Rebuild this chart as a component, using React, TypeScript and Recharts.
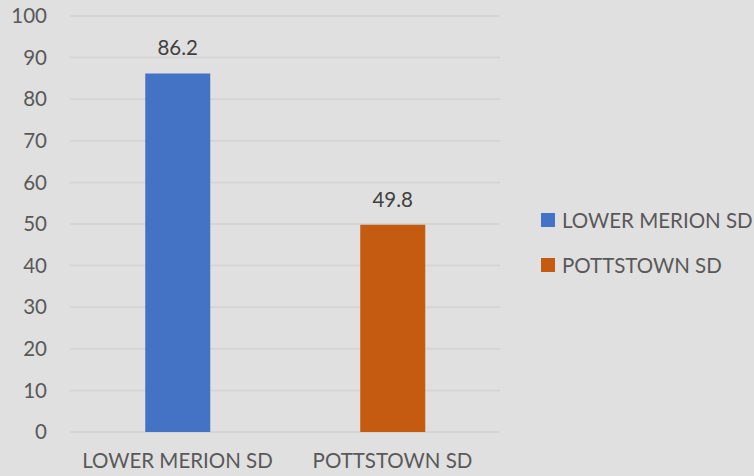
import React from 'react';
import { BarChart, Bar, XAxis, YAxis, CartesianGrid, Cell, LabelList } from 'recharts';

const districts = ['LOWER MERION SD', 'POTTSTOWN SD'];
const scores = [86.2, 49.8];
const colors = ['#4472C4', '#C55A11'];
const yTicks = [0, 10, 20, 30, 40, 50, 60, 70, 80, 90, 100];

const data = districts.map((name, i) => ({ name, value: scores[i] }));

const FONT = 'Lato, "Open Sans", sans-serif';
const FS = 20.5;

export default function App() {
  return (
    <div style={{ position: 'absolute', left: 0, top: 0, width: 754, height: 476, background: '#e0e0e0' }}>
      <BarChart
        width={754}
        height={476}
        data={data}
        margin={{ top: 16, right: 254, bottom: 0, left: 0 }}
        barCategoryGap="35%"
      >
        <CartesianGrid vertical={false} stroke="#d5d5d5" strokeWidth={2} />
        <XAxis
          dataKey="name"
          interval={0}
          axisLine={false}
          tickLine={false}
          tickSize={0}
          tickMargin={21}
          height={44}
          tick={{ fill: '#595959', fontSize: FS, fontFamily: FONT }}
        />
        <YAxis
          width={70}
          domain={[0, 100]}
          ticks={yTicks}
          axisLine={false}
          tickLine={false}
          tickSize={0}
          tickMargin={23}
          tick={{ fill: '#595959', fontSize: FS, fontFamily: FONT }}
        />
        <Bar dataKey="value" isAnimationActive={false}>
          {data.map((d, i) => (
            <Cell key={d.name} fill={colors[i]} />
          ))}
          <LabelList
            dataKey="value"
            position="top"
            offset={18}
            style={{ fill: '#404040', fontSize: FS, fontFamily: FONT }}
          />
        </Bar>
      </BarChart>
      <div style={{ position: 'absolute', left: 541, top: 197, fontFamily: FONT, fontSize: FS, color: '#595959' }}>
        {districts.map((name, i) => (
          <div key={name} style={{ display: 'flex', alignItems: 'center', height: 45, whiteSpace: 'nowrap' }}>
            <span style={{ width: 14, height: 14, background: colors[i], marginRight: 7, display: 'inline-block' }} />
            <span>{name}</span>
          </div>
        ))}
      </div>
    </div>
  );
}
